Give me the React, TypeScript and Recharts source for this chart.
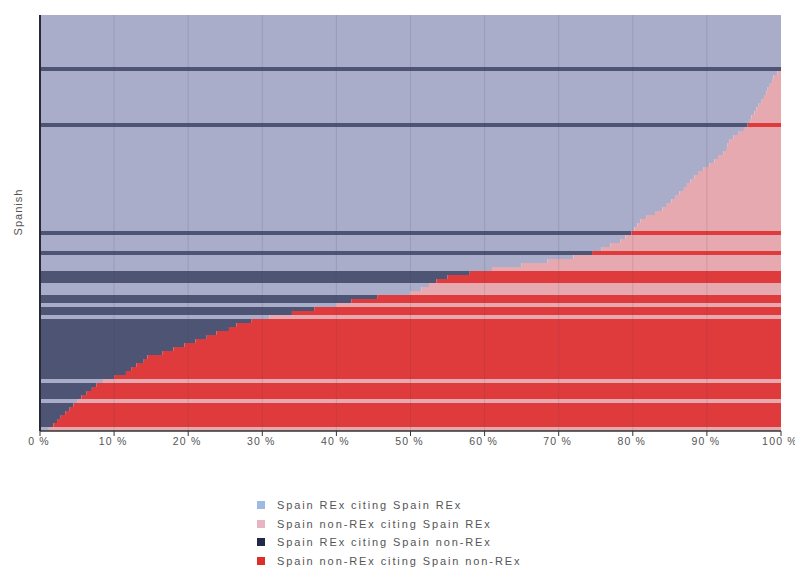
import React from 'react';
import { BarChart, Bar, XAxis, YAxis, Legend, ReferenceLine } from 'recharts';

// Share (%) of citations coming from the first group in each row (sorted rows, top to bottom)
const leftShare: number[] = [
  100, 100, 100, 100, 100, 100, 100, 100, 100, 100,
  100, 100, 100, 100, 99.5, 99, 98.8, 98.5, 98.2, 98,
  97.7, 97.4, 97, 96.7, 96.4, 96, 95.8, 95.5, 95, 94.3,
  93.6, 93, 92.8, 92.7, 92.2, 91.5, 91, 90.3, 89.5, 88.8,
  88.3, 87.8, 87.3, 86.9, 86.3, 85.8, 85.2, 84.6, 84, 83,
  81.8, 81, 80.6, 80.2, 79.8, 79, 78.3, 77, 75.8, 74.5,
  72, 68.5, 65, 61, 58, 55, 53.5, 52.5, 51.5, 50,
  45.5, 42, 40, 37, 34, 31, 28.5, 26.5, 25.5, 23.8,
  22.5, 21, 19.5, 18, 16.5, 14.5, 14, 13, 12.3, 11.6,
  10, 8.5, 7.6, 7, 6.3, 5.6, 5, 4.5, 4, 3.4,
  2.8, 2.3, 1.8, 1.2,
];

// Cited group per row: R = Spain REx cited, N = Spain non-REx cited
const rowType: string[] = (
  'RRRRRRRRRR' +
  'RRRNRRRRRR' +
  'RRRRRRRNRR' +
  'RRRRRRRRRR' +
  'RRRRRRRRRR' +
  'RRRRNRRRRN' +
  'RRRRNNNRRR' +
  'NNRNNRNNNN' +
  'NNNNNNNNNN' +
  'NRNNNNRNNN' +
  'NNNR'
).split('');

const rowIds: string[] = leftShare.map((_, i) => `J${i + 1}`);

const xTicks: number[] = [0, 10, 20, 30, 40, 50, 60, 70, 80, 90, 100];
const gridTicks: number[] = [10, 20, 30, 40, 50, 60, 70, 80, 90];

const seriesNames = {
  reRe: 'Spain REx citing Spain REx',
  nonReRe: 'Spain non-REx citing Spain REx',
  reNon: 'Spain REx citing Spain non-REx',
  nonNon: 'Spain non-REx citing Spain non-REx',
};

const fills = {
  reRe: '#a9adc9',
  nonReRe: '#e6a9b0',
  reNon: '#4e5474',
  nonNon: '#e03b3c',
};

const legendColors = {
  reRe: '#9dbbe0',
  nonReRe: '#e8b4c4',
  reNon: '#1f2a48',
  nonNon: '#dc2f2c',
};

const data = rowIds.map((id, i) => {
  const left = leftShare[i];
  const isREx = rowType[i] === 'R';
  return {
    row: id,
    reRe: isREx ? left : 0,
    reNon: isREx ? 0 : left,
    nonReRe: isREx ? 100 - left : 0,
    nonNon: isREx ? 0 : 100 - left,
  };
});

const legendOrder: (keyof typeof seriesNames)[] = ['reRe', 'nonReRe', 'reNon', 'nonNon'];

const renderLegend = () => (
  <div style={{ fontFamily: '"Liberation Sans", Arial, sans-serif', fontSize: 11, letterSpacing: 1.9, color: '#555' }}>
    {legendOrder.map((k) => (
      <div key={k} style={{ display: 'flex', alignItems: 'center', height: 18.5, whiteSpace: 'nowrap' }}>
        <span style={{ display: 'inline-block', width: 8, height: 8, background: legendColors[k], marginRight: 12 }} />
        <span>{seriesNames[k]}</span>
      </div>
    ))}
  </div>
);

const renderYLabel = () => (
  <text x={14} y={204} transform="rotate(-90 14 204)" textAnchor="middle" fontSize={11} fill="#555"
    letterSpacing={1} fontFamily='"Liberation Sans", Arial, sans-serif'>
    Spanish
  </text>
);

export default function App() {
  return (
    <div style={{ width: 795, height: 573, fontFamily: '"Liberation Sans", Arial, sans-serif' }}>
      <BarChart
        width={795}
        height={573}
        data={data}
        layout="vertical"
        margin={{ top: 7, right: 22, left: 0, bottom: 120 }}
        barCategoryGap={0}
        barGap={0}
      >
        <XAxis
          type="number"
          domain={[0, 100]}
          ticks={xTicks}
          interval={0}
          tickFormatter={(v: number) => `${v} %`}
          axisLine={{ stroke: '#333', strokeWidth: 1.5 }}
          tickLine={{ stroke: '#333' }}
          tickSize={5}
          tick={{ fill: '#555', fontSize: 10.5, letterSpacing: 1.2, dx: -1 }}
          height={30}
        />
        <YAxis
          type="category"
          dataKey="row"
          width={32}
          tick={false}
          tickLine={false}
          axisLine={{ stroke: '#2a2a35', strokeWidth: 2 }}
          label={{ content: renderYLabel }}
        />
        <Bar dataKey="reRe" stackId="s" fill={fills.reRe} isAnimationActive={false} name={seriesNames.reRe} />
        <Bar dataKey="reNon" stackId="s" fill={fills.reNon} isAnimationActive={false} name={seriesNames.reNon} />
        <Bar dataKey="nonReRe" stackId="s" fill={fills.nonReRe} isAnimationActive={false} name={seriesNames.nonReRe} />
        <Bar dataKey="nonNon" stackId="s" fill={fills.nonNon} isAnimationActive={false} name={seriesNames.nonNon} />
        {gridTicks.map((t) => (
          <ReferenceLine key={t} x={t} stroke="#3c3f5a" strokeOpacity={0.15} />
        ))}
        <Legend
          layout="vertical"
          align="center"
          verticalAlign="middle"
          content={renderLegend}
          wrapperStyle={{ left: 249, top: 488, width: 380 }}
        />
      </BarChart>
    </div>
  );
}
